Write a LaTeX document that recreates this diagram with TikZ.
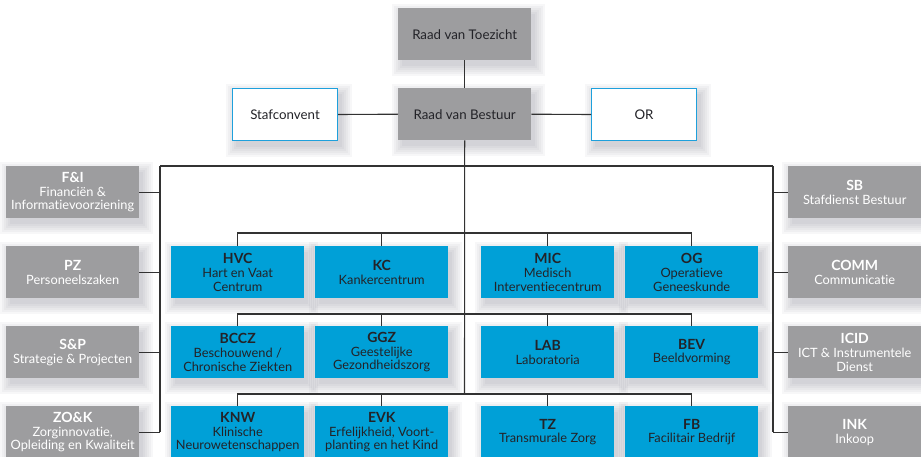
\documentclass[tikz,border=0pt]{standalone}
\usepackage{fontspec}
\setmainfont[Ligatures={NoCommon}]{Lato}
\usetikzlibrary{backgrounds}
\definecolor{gbox}{RGB}{157,157,159}
\definecolor{bbox}{RGB}{0,160,215}
\definecolor{dtext}{RGB}{35,35,40}
\definecolor{lcol}{RGB}{50,50,50}
\definecolor{bord}{RGB}{30,160,220}
\definecolor{shcol}{RGB}{70,70,90}
\tikzset{
  box/.style={anchor=north west, minimum width=133pt, minimum height=52pt, inner sep=0pt, align=center,
    font=\fontsize{12.8}{13.8}\selectfont},
  graybox/.style={box, fill=gbox, text=white},
  raadbox/.style={box, fill=gbox, text=dtext, font=\fontsize{13.3}{14}\selectfont},
  whitebox/.style={box, fill=white, draw=bord, line width=1pt, text=dtext, minimum width=105pt, font=\fontsize{13.3}{14}\selectfont},
  bluebox/.style={box, fill=bbox, text=dtext},
  conn/.style={draw=lcol, line width=1.1pt},
  shadowlayer/.style={fill=shcol, fill opacity=0.045},
}
\newcommand{\hd}[1]{{\fontsize{14}{14.5}\selectfont\bfseries #1}}
\begin{document}
\begin{tikzpicture}[x=1pt, y=-1pt]
\useasboundingbox (0,0) rectangle (921,457);
% top
\node[raadbox] (rvt) at (398,8) {Raad van Toezicht};
\node[raadbox] (rvb) at (398,88) {Raad van Bestuur};
\node[whitebox] (staf) at (232,88) {Stafconvent};
\node[whitebox] (or) at (591,88) {OR};
% left
\node[graybox] (fi) at (6,166) {\hd{F\&I}\\Financiën \&\\Informatievoorziening};
\node[graybox] (pz) at (6,246) {\hd{PZ}\\Personeelszaken};
\node[graybox] (sp) at (6,326) {\hd{S\&P}\\Strategie \& Projecten};
\node[graybox] (zok) at (6,406) {\hd{ZO\&K}\\Zorginnovatie,\\Opleiding en Kwaliteit};
% right
\node[graybox] (sb) at (788,166) {\hd{SB}\\Stafdienst Bestuur};
\node[graybox] (comm) at (788,246) {\hd{COMM}\\Communicatie};
\node[graybox] (icid) at (788,326) {\hd{ICID}\\ICT \& Instrumentele\\Dienst};
\node[graybox] (ink) at (788,406) {\hd{INK}\\Inkoop};
% blue row 1
\node[bluebox] (hvc) at (171,246) {\hd{HVC}\\Hart en Vaat\\Centrum};
\node[bluebox] (kc) at (315,246) {\hd{KC}\\Kankercentrum};
\node[bluebox] (mic) at (481,246) {\hd{MIC}\\Medisch\\Interventiecentrum};
\node[bluebox] (og) at (625,246) {\hd{OG}\\Operatieve\\Geneeskunde};
% row 2
\node[bluebox] (bccz) at (171,326) {\hd{BCCZ}\\Beschouwend /\\Chronische Ziekten};
\node[bluebox] (ggz) at (315,326) {\hd{GGZ}\\Geestelijke\\Gezondheidszorg};
\node[bluebox] (lab) at (481,326) {\hd{LAB}\\Laboratoria};
\node[bluebox] (bev) at (625,326) {\hd{BEV}\\Beeldvorming};
% row 3
\node[bluebox] (knw) at (171,406) {\hd{KNW}\\Klinische\\Neurowetenschappen};
\node[bluebox] (evk) at (315,406) {\hd{EVK}\\Erfelijkheid, Voort-\\planting en het Kind};
\node[bluebox] (tz) at (481,406) {\hd{TZ}\\Transmurale Zorg};
\node[bluebox] (fb) at (625,406) {\hd{FB}\\Facilitair Bedrijf};
% soft shadows
\begin{scope}[on background layer]
\foreach \n in {rvt,rvb,staf,or,fi,pz,sp,zok,sb,comm,icid,ink,hvc,kc,mic,og,bccz,ggz,lab,bev,knw,evk,tz,fb}{
  \foreach \k in {0,2,4,6,8,10}{
    \fill[shadowlayer] ([shift={(4-\k,6-\k)}]\n.north west) rectangle ([shift={(4+\k,6+\k)}]\n.south east);
  }
}
\end{scope}
\coordinate (ltop) at (160,166);
\coordinate (rtop) at (773,166);
\coordinate (cbot) at (464.5,394);
% connectors
\draw[conn] (rvt.south) -- (rvb.north);
\draw[conn] (staf.east) -- (rvb.west);
\draw[conn] (rvb.east) -- (or.west);
\draw[conn] (rvb.south) -- (cbot);
\draw[conn] (ltop) -- (rtop);
\draw[conn] (ltop) -- (ltop |- zok.east);
\draw[conn] (rtop) -- (rtop |- ink.west);
\foreach \n in {fi,pz,sp,zok} \draw[conn] (\n.east) -- (\n.east -| ltop);
\foreach \n in {sb,comm,icid,ink} \draw[conn] (\n.west) -- (\n.west -| rtop);
\draw[conn] (hvc.north) -- ++(0,-13) -| (og.north);
\draw[conn] (kc.north) -- ++(0,-13);
\draw[conn] (mic.north) -- ++(0,-13);
\draw[conn] (bccz.north) -- ++(0,-12) -| (bev.north);
\draw[conn] (ggz.north) -- ++(0,-12);
\draw[conn] (lab.north) -- ++(0,-12);
\draw[conn] (knw.north) -- ++(0,-12) -| (fb.north);
\draw[conn] (evk.north) -- ++(0,-12);
\draw[conn] (tz.north) -- ++(0,-12);
\end{tikzpicture}
\end{document}
